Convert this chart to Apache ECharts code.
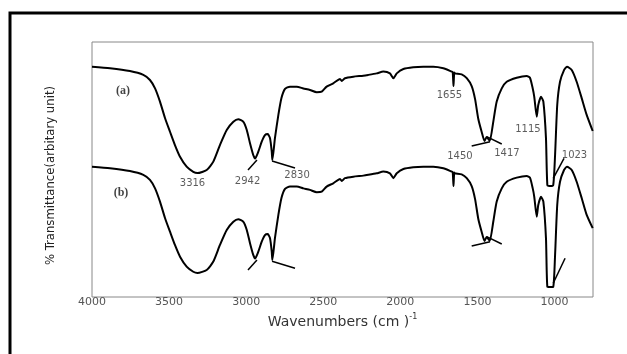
<!DOCTYPE html>
<html>
<head>
<meta charset="utf-8">
<script src="https://cdn.jsdelivr.net/npm/echarts@6/dist/echarts.min.js"></script>
<style>html,body{margin:0;padding:0;background:#fff;}#c{width:627px;height:354px;}</style>
</head>
<body>
<div id="c"></div>
<script>
// Wavenumbers (cm-1) sampled along the spectra
const wavenumbers = [4000,3883,3754,3667,3624,3591,3559,3526,3494,3462,3429,3386,3343,3316,3256,3213,3170,3126,3083,3051,3018,2996,2975,2954,2942,2921,2899,2878,2860,2845,2834,2830,2813,2791,2771,2748,2716,2672,2629,2586,2542,2510,2478,2435,2391,2380,2359,2305,2240,2208,2153,2110,2067,2045,2023,1980,1916,1851,1786,1721,1667,1660,1655,1650,1645,1602,1569,1537,1515,1494,1472,1454,1440,1420,1397,1375,1342,1310,1245,1180,1159,1141,1131,1115,1105,1087,1072,1055,1046,1029,1008,996,982,964,938,919,888,856,823,791,752];
// Spectrum (a), % transmittance (arbitrary)
const transA = [90.3,89.7,88.6,87.1,85.1,81.8,76.6,70.1,64.8,59.6,55.0,51.1,49.1,48.6,49.8,53.1,59.6,65.5,68.7,69.7,68.7,65.5,60.3,55.7,54.3,57.0,60.9,63.5,63.9,62.2,57.0,53.7,62.4,71.4,78.0,81.6,82.5,82.5,81.8,81.2,80.3,80.5,82.5,83.8,85.5,84.7,85.8,86.4,86.8,87.1,87.7,88.4,87.7,85.8,87.7,89.4,90.1,90.3,90.3,89.7,88.4,88.2,82.7,88.0,87.7,87.3,85.8,82.7,77.6,69.8,64.7,61.2,62.7,61.2,68.7,76.6,81.8,84.4,86.0,86.7,86.0,81.8,78.5,70.7,75.3,78.5,76.6,62.2,43.9,43.5,43.9,55.7,75.3,84.4,89.0,90.3,89.0,84.4,77.9,71.4,65.1];
// Spectrum (b), % transmittance (arbitrary)
const transB = [51.1,50.5,49.4,47.9,45.9,42.6,37.4,30.9,25.6,20.4,15.8,11.9,9.9,9.4,10.6,13.9,20.4,26.3,29.5,30.5,29.5,26.3,21.1,16.5,15.1,17.8,21.7,24.3,24.7,23.0,17.8,14.5,23.2,32.2,38.8,42.4,43.3,43.3,42.6,42.0,41.1,41.3,43.3,44.6,46.3,45.5,46.6,47.2,47.6,47.9,48.5,49.2,48.5,46.6,48.5,50.2,50.9,51.1,51.1,50.5,49.2,49.0,43.5,48.8,48.5,48.1,46.6,43.5,38.4,30.6,25.5,22.0,23.5,22.0,29.5,37.4,42.6,45.2,46.8,47.5,46.8,42.6,39.3,31.5,36.1,39.3,37.4,23.0,4.0,3.9,4.0,16.5,36.1,45.2,49.8,51.1,49.8,45.2,38.7,32.2,27.0];
// Baseline strokes drawn at peaks (wavenumber, value pairs)
const baseLinesA = [[[2988,49.8],[2930,53.7]],[[2832,53.3],[2683,50.6]],[[1537,59.2],[1418,60.9]],[[1440,62.9],[1342,60.0]],[[1008,46.5],[938,54.4]]];
const baseLinesB = [[[2988,10.6],[2930,14.5]],[[2832,14.0],[2683,11.3]],[[1537,20.0],[1418,21.7]],[[1440,23.7],[1342,20.8]],[[1008,5.4],[931,15.2]]];
// Peak annotations: [wavenumber, value, text]
const peakLabels = [[3348,44.7,'3316'],[2991,45.5,'2942'],[2670,47.6,'2830'],[1681,79.0,'1655'],[1613,55.3,'1450'],[1308,56.3,'1417'],[1172,65.9,'1115'],[870,55.7,'1023']];
const curveLabels = [[3799,80.8,'(a)'],[3812,40.8,'(b)']];
const xTicks = [4000,3500,3000,2500,2000,1500,1000];
const xName = 'Wavenumbers (cm )';
const xNameSup = '-1';
const yName = '% Transmittance(arbitary unit)';

const chart = echarts.init(document.getElementById('c'), null, {renderer:'canvas'});
const toPairs = (xs, ys) => xs.map((x,i)=>[x, ys[i]]);
const series = [
  {type:'line', data: toPairs(wavenumbers, transA), showSymbol:false, smooth:0.2, lineStyle:{color:'#000', width:2}, z:3},
  {type:'line', data: toPairs(wavenumbers, transB), showSymbol:false, smooth:0.2, lineStyle:{color:'#000', width:2}, z:3}
];
baseLinesA.concat(baseLinesB).forEach(seg => series.push({type:'line', data:seg, showSymbol:false, lineStyle:{color:'#000', width:1.5}, z:3}));
series.push({type:'scatter', data: peakLabels, symbolSize:0, encode:{x:0,y:1},
  label:{show:true, position:'inside', formatter:p=>p.value[2], color:'#333', fontFamily:'DejaVu Sans', fontSize:10}});
series.push({type:'scatter', data: curveLabels, symbolSize:0, encode:{x:0,y:1},
  label:{show:true, position:'inside', formatter:p=>p.value[2], color:'#111', fontFamily:'Liberation Serif', fontWeight:'bold', fontSize:12}});

chart.setOption({
  animation:false,
  backgroundColor:'#fff',
  grid:{left:92, top:42, right:34, bottom:57, show:true, borderColor:'#888', borderWidth:1},
  xAxis:{type:'value', inverse:true, min:750, max:4000,
    axisLine:{show:false}, axisTick:{show:false}, splitLine:{show:false},
    axisLabel:{customValues:xTicks, formatter:v=>String(v), margin:0, color:'#555', fontFamily:'DejaVu Sans', fontSize:11},
    name:'{n|' + xName + '}{s|' + xNameSup + '}', nameLocation:'middle', nameGap:16,
    nameTextStyle:{color:'#333', rich:{
      n:{fontFamily:'DejaVu Sans', fontSize:14, color:'#333', verticalAlign:'bottom', lineHeight:16},
      s:{fontFamily:'DejaVu Sans', fontSize:8, color:'#333', verticalAlign:'top', lineHeight:16, padding:[0,0,6,0]}
    }}
  },
  yAxis:{type:'value', min:0, max:100, axisLine:{show:false}, axisTick:{show:false}, splitLine:{show:false}, axisLabel:{show:false}},
  graphic:[
    {type:'rect', shape:{x:10, y:13, width:700, height:400}, style:{fill:null, stroke:'#000', lineWidth:3}, silent:true},
    {type:'text', x:51, y:175.5, rotation:Math.PI/2, style:{text:yName, fill:'#222', font:'13px "Liberation Sans Narrow", "DejaVu Sans Condensed", "Liberation Sans"', align:'center', verticalAlign:'middle'}}
  ],
  series: series
});
</script>
</body>
</html>
